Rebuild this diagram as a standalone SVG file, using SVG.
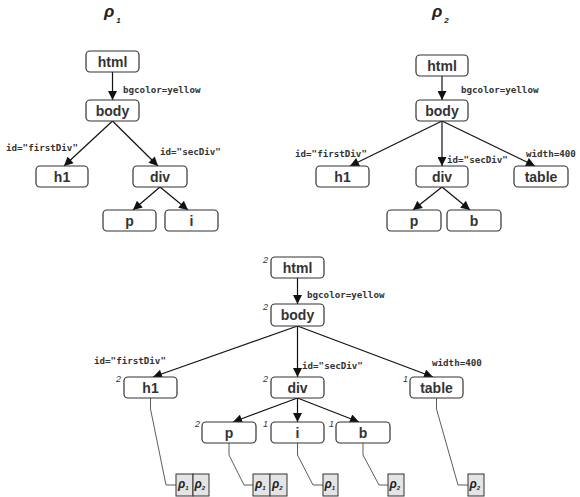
<svg xmlns="http://www.w3.org/2000/svg" width="580" height="497" viewBox="0 0 580 497">
<defs>
<marker id="arr" viewBox="0 0 10 10" refX="10" refY="5" markerWidth="10" markerHeight="9" markerUnits="userSpaceOnUse" orient="auto">
<path d="M0,0 L10,5 L0,10 z" fill="#111"/>
</marker>
<style>
.n rect{fill:#fff;stroke:#333;stroke-width:1.2}
.n text{font-family:"Liberation Sans",Arial,sans-serif;font-weight:bold;font-size:14px;fill:#333;text-anchor:middle}
.e{stroke:#111;stroke-width:1.2;fill:none;marker-end:url(#arr)}
.lbl{font-family:"DejaVu Sans Mono","Liberation Mono",monospace;font-weight:bold;font-size:9.2px;fill:#333}
.cnt{font-family:"Liberation Sans",Arial,sans-serif;font-style:italic;font-size:9px;fill:#222}
.ann{stroke:#333;stroke-width:0.8;fill:none}
.cell{fill:#e4e4e4;stroke:#333;stroke-width:1}
.rho{font-family:"Liberation Sans",Arial,sans-serif;font-style:italic;font-weight:bold;fill:#222}
.title{font-family:"Liberation Sans",Arial,sans-serif;font-style:italic;font-weight:bold;fill:#222}
</style>
</defs>

<!-- Titles -->
<text class="title" x="104" y="17" font-size="17">ρ<tspan font-size="8" dy="6" dx="2">1</tspan></text>
<text class="title" x="432" y="17" font-size="17">ρ<tspan font-size="8" dy="6" dx="2">2</tspan></text>

<!-- Connectors -->
<g id="connectors">
<!-- rho1 -->
<line class="e" x1="112.5" y1="72" x2="112.5" y2="100"/>
<line class="e" x1="112.5" y1="121" x2="64" y2="166"/>
<line class="e" x1="112.5" y1="121" x2="158" y2="166"/>
<line class="e" x1="160" y1="187" x2="133" y2="210"/>
<line class="e" x1="160" y1="187" x2="188" y2="210"/>
<!-- rho2 -->
<line class="e" x1="442" y1="76" x2="442" y2="100"/>
<line class="e" x1="442" y1="121" x2="350" y2="166"/>
<line class="e" x1="442" y1="121" x2="442" y2="166"/>
<line class="e" x1="442" y1="121" x2="535" y2="166"/>
<line class="e" x1="442" y1="187" x2="413" y2="210"/>
<line class="e" x1="442" y1="187" x2="470" y2="210"/>
<!-- merged -->
<line class="e" x1="297.5" y1="278" x2="297.5" y2="304"/>
<line class="e" x1="297.5" y1="326" x2="153" y2="377"/>
<line class="e" x1="297.5" y1="326" x2="297.5" y2="377"/>
<line class="e" x1="297.5" y1="326" x2="433" y2="377"/>
<line class="e" x1="297.5" y1="398" x2="233" y2="422"/>
<line class="e" x1="297.5" y1="398" x2="297.5" y2="422"/>
<line class="e" x1="297.5" y1="398" x2="359" y2="422"/>
<!-- annotation lines -->
<path class="ann" d="M150.5,398 V409 L166,485 H176"/>
<path class="ann" d="M229,443 V455 L244,485 H253"/>
<path class="ann" d="M297.5,443 V455 L313,485 H323"/>
<path class="ann" d="M363,443 V455 L379,485 H388"/>
<path class="ann" d="M436.5,398 V409 L458,485 H468"/>
</g>

<!-- Edge labels -->
<g id="labels">
<text class="lbl" x="123" y="93">bgcolor=yellow</text>
<text class="lbl" x="6" y="151">id="firstDiv"</text>
<text class="lbl" x="160" y="155">id="secDiv"</text>
<text class="lbl" x="461" y="93">bgcolor=yellow</text>
<text class="lbl" x="295" y="157">id="firstDiv"</text>
<text class="lbl" x="447" y="163">id="secDiv"</text>
<text class="lbl" x="526" y="157">width=400</text>
<text class="lbl" x="307" y="298">bgcolor=yellow</text>
<text class="lbl" x="94" y="364">id="firstDiv"</text>
<text class="lbl" x="302" y="369">id="secDiv"</text>
<text class="lbl" x="432" y="366">width=400</text>
</g>

<!-- rho1 nodes -->
<g id="r1-html" class="n"><rect x="86" y="51" width="53" height="21" rx="4"/><text x="112.5" y="66.5">html</text></g>
<g id="r1-body" class="n"><rect x="86" y="100" width="53" height="21" rx="4"/><text x="112.5" y="115.5">body</text></g>
<g id="r1-h1" class="n"><rect x="36" y="166" width="52" height="21" rx="4"/><text x="62" y="181.5">h1</text></g>
<g id="r1-div" class="n"><rect x="133" y="166" width="54" height="21" rx="4"/><text x="160" y="181.5">div</text></g>
<g id="r1-p" class="n"><rect x="103" y="210" width="53" height="21" rx="4"/><text x="129.5" y="225.5">p</text></g>
<g id="r1-i" class="n"><rect x="165" y="210" width="53" height="21" rx="4"/><text x="191.5" y="225.5">i</text></g>

<!-- rho2 nodes -->
<g id="r2-html" class="n"><rect x="416" y="55" width="52" height="21" rx="4"/><text x="442" y="70.5">html</text></g>
<g id="r2-body" class="n"><rect x="416" y="100" width="52" height="21" rx="4"/><text x="442" y="115.5">body</text></g>
<g id="r2-h1" class="n"><rect x="316" y="166" width="53" height="21" rx="4"/><text x="342.5" y="181.5">h1</text></g>
<g id="r2-div" class="n"><rect x="416" y="166" width="52" height="21" rx="4"/><text x="442" y="181.5">div</text></g>
<g id="r2-table" class="n"><rect x="514" y="166" width="54" height="21" rx="4"/><text x="541" y="181.5">table</text></g>
<g id="r2-p" class="n"><rect x="387" y="210" width="54" height="21" rx="4"/><text x="414" y="225.5">p</text></g>
<g id="r2-b" class="n"><rect x="447" y="210" width="54" height="21" rx="4"/><text x="474" y="225.5">b</text></g>

<!-- merged nodes -->
<g id="m-html" class="n"><rect x="271" y="257" width="53" height="21" rx="4"/><text x="297.5" y="272.5">html</text><text class="cnt" x="263" y="263" style="font-weight:normal;font-size:9px;font-style:italic;text-anchor:start">2</text></g>
<g id="m-body" class="n"><rect x="271" y="304" width="53" height="22" rx="4"/><text x="297.5" y="320">body</text><text class="cnt" x="263" y="310" style="font-weight:normal;font-size:9px;font-style:italic;text-anchor:start">2</text></g>
<g id="m-h1" class="n"><rect x="124" y="377" width="53" height="21" rx="4"/><text x="150.5" y="392.5">h1</text><text class="cnt" x="116" y="382" style="font-weight:normal;font-size:9px;font-style:italic;text-anchor:start">2</text></g>
<g id="m-div" class="n"><rect x="271" y="377" width="53" height="21" rx="4"/><text x="297.5" y="392.5">div</text><text class="cnt" x="263" y="382" style="font-weight:normal;font-size:9px;font-style:italic;text-anchor:start">2</text></g>
<g id="m-table" class="n"><rect x="410" y="377" width="53" height="21" rx="4"/><text x="436.5" y="392.5">table</text><text class="cnt" x="403" y="382" style="font-weight:normal;font-size:9px;font-style:italic;text-anchor:start">1</text></g>
<g id="m-p" class="n"><rect x="202" y="422" width="54" height="21" rx="4"/><text x="229" y="437.5">p</text><text class="cnt" x="195" y="427" style="font-weight:normal;font-size:9px;font-style:italic;text-anchor:start">2</text></g>
<g id="m-i" class="n"><rect x="271" y="422" width="53" height="21" rx="4"/><text x="297.5" y="437.5">i</text><text class="cnt" x="263" y="427" style="font-weight:normal;font-size:9px;font-style:italic;text-anchor:start">1</text></g>
<g id="m-b" class="n"><rect x="336" y="422" width="54" height="21" rx="4"/><text x="363" y="437.5">b</text><text class="cnt" x="329" y="427" style="font-weight:normal;font-size:9px;font-style:italic;text-anchor:start">1</text></g>

<!-- provenance boxes -->
<g id="prov-h1">
<rect class="cell" x="176" y="474" width="17" height="22"/><rect class="cell" x="193" y="474" width="16" height="22"/>
<text class="rho" x="178" y="488" font-size="12">ρ<tspan font-size="6" dy="2">1</tspan></text>
<text class="rho" x="194.5" y="488" font-size="12">ρ<tspan font-size="6" dy="2">2</tspan></text>
</g>
<g id="prov-p">
<rect class="cell" x="253" y="474" width="17" height="22"/><rect class="cell" x="270" y="474" width="17" height="22"/>
<text class="rho" x="255" y="488" font-size="12">ρ<tspan font-size="6" dy="2">1</tspan></text>
<text class="rho" x="272" y="488" font-size="12">ρ<tspan font-size="6" dy="2">2</tspan></text>
</g>
<g id="prov-i">
<rect class="cell" x="323" y="474" width="15" height="22"/>
<text class="rho" x="324.5" y="488" font-size="12">ρ<tspan font-size="6" dy="2">1</tspan></text>
</g>
<g id="prov-b">
<rect class="cell" x="388" y="474" width="16" height="22"/>
<text class="rho" x="389.5" y="488" font-size="12">ρ<tspan font-size="6" dy="2">2</tspan></text>
</g>
<g id="prov-table">
<rect class="cell" x="468" y="474" width="16" height="22"/>
<text class="rho" x="469.5" y="488" font-size="12">ρ<tspan font-size="6" dy="2">2</tspan></text>
</g>
</svg>
